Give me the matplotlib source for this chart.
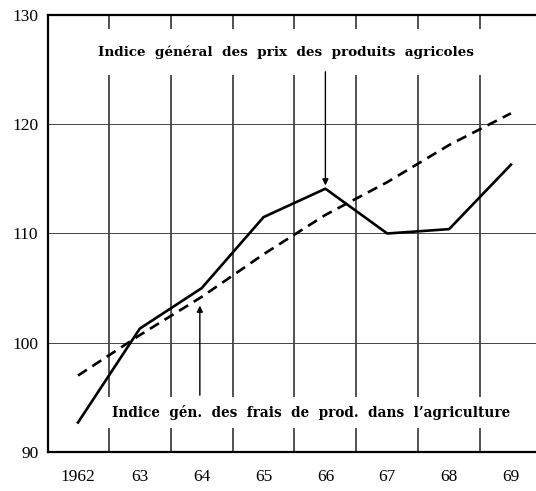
import numpy as np
import matplotlib.pyplot as plt

# Années et indices (base 100)
annees = [1962, 1963, 1964, 1965, 1966, 1967, 1968, 1969]
annees_labels = ['1962', '63', '64', '65', '66', '67', '68', '69']
prix_agricoles = [92.7, 101.3, 105.0, 111.5, 114.1, 110.0, 110.4, 116.3]
frais_production = [97.0, 100.7, 104.2, 108.1, 111.7, 114.7, 118.1, 121.0]

label_prix = 'Indice  général  des  prix  des  produits  agricoles'
label_frais = 'Indice  gén.  des  frais  de  prod.  dans  l\u2019agriculture'

fig = plt.figure(figsize=(5.36, 4.91), dpi=100)
ax = fig.add_axes([48 / 536, 1 - 452 / 491, 1 - 48 / 536, (452 - 15) / 491])

ax.set_xlim(1961.515, 1969.405)
ax.set_ylim(90, 130)

# Quadrillage
for x in np.arange(annees[0] + 0.5, annees[-1], 1.0):
    ax.axvline(x, color='#222222', lw=1.1, zorder=1)
for y in [100, 110, 120]:
    ax.axhline(y, color='#444444', lw=0.7, zorder=1)

# Courbes
ax.plot(annees, prix_agricoles, '-', color='black', lw=1.9, zorder=3)
ax.plot(annees, frais_production, '--', color='black', lw=1.9, dashes=(4, 2.5), zorder=3)

# Textes et flèches
ax.text(1965.36, 126.6, label_prix, ha='center', va='center', zorder=4,
        family='DejaVu Serif', weight='bold', size=9.7,
        bbox=dict(boxstyle='square,pad=1.2', fc='white', ec='none'))
ax.text(1965.77, 93.6, label_frais, ha='center', va='center', zorder=4,
        family='DejaVu Serif', weight='bold', size=9.8,
        bbox=dict(boxstyle='square,pad=0.6', fc='white', ec='none'))

ax.annotate('', xy=(annees[4], prix_agricoles[4] + 0.3), xytext=(annees[4], 124.8),
            arrowprops=dict(arrowstyle='-|>', lw=1.0, color='black', mutation_scale=9,
                            shrinkA=0, shrinkB=0), zorder=5)
ax.annotate('', xy=(annees[2] - 0.03, frais_production[2] - 0.8), xytext=(annees[2] - 0.03, 95.2),
            arrowprops=dict(arrowstyle='-|>', lw=1.0, color='black', mutation_scale=9,
                            shrinkA=0, shrinkB=0), zorder=5)

# Axes
ax.spines['right'].set_visible(False)
for s in ['left', 'top', 'bottom']:
    ax.spines[s].set_linewidth(1.6)
ax.set_yticks([90, 100, 110, 120, 130])
ax.set_xticks(annees)
ax.set_xticklabels(annees_labels)
ax.tick_params(axis='both', length=0, labelsize=12.5)
ax.tick_params(axis='y', pad=7)
ax.tick_params(axis='x', pad=12)
for lab in ax.get_xticklabels() + ax.get_yticklabels():
    lab.set_family('Liberation Serif')

fig.savefig('out.png', dpi=100)
